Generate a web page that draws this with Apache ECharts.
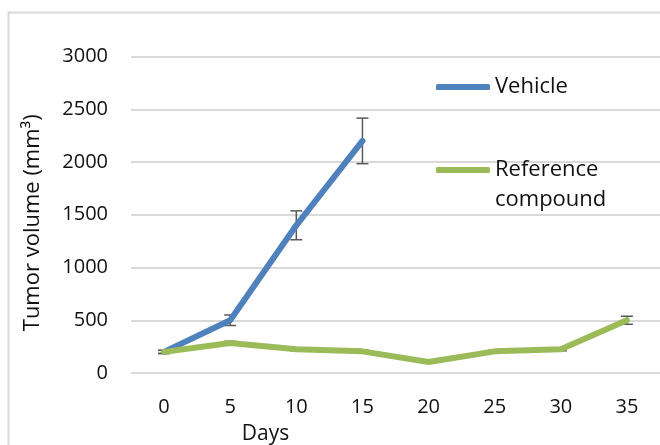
<!DOCTYPE html>
<html>
<head>
<meta charset="utf-8">
<script src="https://cdn.jsdelivr.net/npm/echarts@6/dist/echarts.min.js"></script>
<style>
  html, body { margin: 0; padding: 0; background: #fff; }
  #chart { width: 660px; height: 445px; }
</style>
</head>
<body>
<div id="chart"></div>
<script>
// ---- data ----
var days = ['0', '5', '10', '15', '20', '25', '30', '35'];
var vehicle = [200, 500, 1400, 2200, null, null, null, null];
var vehicleErr = [15, 50, 137, 216, null, null, null, null];
var reference = [200, 285, 225, 205, 105, 205, 225, 500];
var referenceErr = [15, 15, 15, 15, 10, 15, 15, 38];
var yTicks = [0, 500, 1000, 1500, 2000, 2500, 3000];

var FONT = 'Open Sans';
var BLUE = '#4F81BD';
var GREEN = '#9BBB59';

function errData(vals, errs) {
  var out = [];
  for (var i = 0; i < vals.length; i++) {
    if (vals[i] == null || errs[i] == null) continue;
    out.push([i, vals[i] - errs[i], vals[i] + errs[i]]);
  }
  return out;
}

function renderErr(params, api) {
  var x = api.value(0);
  var lo = api.coord([x, api.value(1)]);
  var hi = api.coord([x, api.value(2)]);
  var half = 6;
  var style = { stroke: '#595959', lineWidth: 1.5, fill: null };
  return {
    type: 'group',
    children: [
      { type: 'line', shape: { x1: lo[0], y1: lo[1], x2: hi[0], y2: hi[1] }, style: style },
      { type: 'line', shape: { x1: lo[0] - half, y1: lo[1], x2: lo[0] + half, y2: lo[1] }, style: style },
      { type: 'line', shape: { x1: hi[0] - half, y1: hi[1], x2: hi[0] + half, y2: hi[1] }, style: style }
    ]
  };
}

var chart = echarts.init(document.getElementById('chart'), null, { renderer: 'canvas' });

chart.setOption({
  animation: false,
  backgroundColor: '#fff',
  textStyle: { fontFamily: FONT },
  grid: { left: 131, right: 0, top: 56.5, bottom: 72, containLabel: false, outerBoundsMode: 'none' },
  graphic: [{
    type: 'rect',
    shape: { x: 8.5, y: 12.5, width: 700, height: 500 },
    style: { fill: null, stroke: '#d9d9d9', lineWidth: 2 },
    silent: true,
    z: -10
  }],
  legend: [{
    data: ['Vehicle'],
    left: 436, top: 72, padding: 0,
    icon: 'roundRect', itemWidth: 54, itemHeight: 6,
    textStyle: { fontFamily: FONT, fontSize: 22, color: '#111', lineHeight: 30 }
  }, {
    data: ['Reference compound'],
    left: 436, top: 125, padding: 0,
    icon: 'roundRect', itemWidth: 54, itemHeight: 6,
    formatter: function () { return '\u00a0\nReference\ncompound'; },
    textStyle: { fontFamily: FONT, fontSize: 22, color: '#111', lineHeight: 30 }
  }],
  xAxis: {
    type: 'category',
    data: days,
    boundaryGap: true,
    axisLine: { show: false },
    axisTick: { show: false },
    axisLabel: { fontFamily: FONT, fontSize: 20, color: '#111', margin: 24 },
    name: 'Days',
    nameLocation: 'middle',
    nameGap: 51,
    nameTextStyle: { fontFamily: FONT, fontSize: 21, color: '#111', padding: [0, 260, 0, 0] }
  },
  yAxis: {
    type: 'value',
    min: yTicks[0],
    max: yTicks[yTicks.length - 1],
    interval: 500,
    axisLine: { show: false },
    axisTick: { show: false },
    axisLabel: { fontFamily: FONT, fontSize: 20, color: '#111', margin: 23,
      formatter: function (v) { return String(v); } },
    splitLine: { lineStyle: { color: '#d9d9d9', width: 2 } },
    name: 'Tumor volume (mm³)',
    nameLocation: 'middle',
    nameGap: 87,
    nameTextStyle: { fontFamily: FONT, fontSize: 22, color: '#111', padding: [0, 16, 0, 0] }
  },
  series: [{
    name: 'errV',
    type: 'custom',
    data: errData(vehicle, vehicleErr),
    renderItem: renderErr,
    z: 1,
    silent: true
  }, {
    name: 'errR',
    type: 'custom',
    data: errData(reference, referenceErr),
    renderItem: renderErr,
    z: 1,
    silent: true
  }, {
    name: 'Vehicle',
    type: 'line',
    data: vehicle,
    color: BLUE,
    showSymbol: false,
    symbol: 'none',
    connectNulls: false,
    lineStyle: { width: 6, color: BLUE, cap: 'round', join: 'round' },
    z: 3
  }, {
    name: 'Reference compound',
    type: 'line',
    data: reference,
    color: GREEN,
    showSymbol: false,
    symbol: 'none',
    lineStyle: { width: 6, color: GREEN, cap: 'round', join: 'round' },
    z: 3
  }]
});
</script>
</body>
</html>
